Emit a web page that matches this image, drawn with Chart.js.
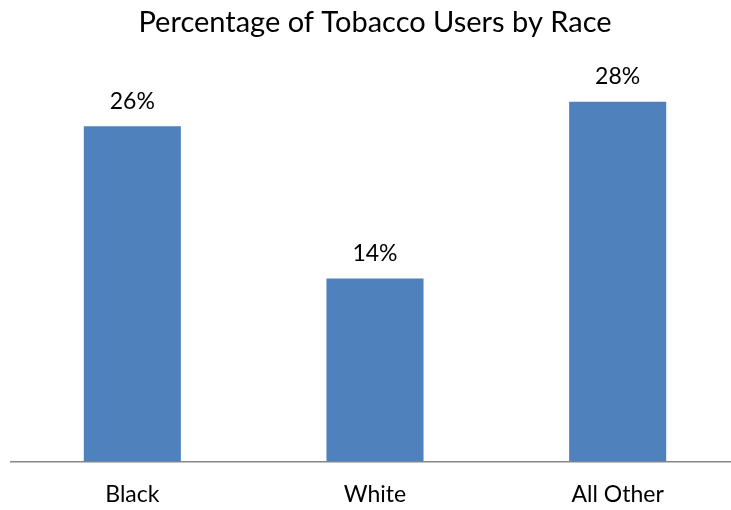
<!DOCTYPE html>
<html>
<head>
<meta charset="utf-8">
<script src="https://cdn.jsdelivr.net/npm/chart.js@4.4.0/dist/chart.umd.min.js"></script>
<style>
  html, body { margin: 0; padding: 0; background: #fff; overflow: hidden; }
  #wrap { width: 739px; height: 530px; }
</style>
</head>
<body>
<div id="wrap"><canvas id="chart"></canvas></div>
<script>
// chart data
const races = ['Black', 'White', 'All Other'];
const tobaccoPct = [26, 14.2, 27.9];

const barColor = '#4F81BD';
const fontFamily = 'Lato, "Open Sans", sans-serif';

// draws the percentage above each bar
const valueLabels = {
    id: 'valueLabels',
    afterDatasetsDraw(chart) {
        const ctx = chart.ctx;
        const meta = chart.getDatasetMeta(0);
        ctx.save();
        ctx.fillStyle = '#000';
        ctx.font = '23px ' + fontFamily;
        ctx.textAlign = 'center';
        ctx.textBaseline = 'middle';
        meta.data.forEach((bar, i) => {
            ctx.fillText(Math.round(tobaccoPct[i]) + '%', bar.x, bar.y - 25);
        });
        ctx.restore();
    }
};

new Chart(document.getElementById('chart'), {
    type: 'bar',
    data: {
        labels: races,
        datasets: [{
            data: tobaccoPct,
            backgroundColor: barColor,
            categoryPercentage: 0.8,
            barPercentage: 0.5
        }]
    },
    options: {
        responsive: true,
        maintainAspectRatio: false,
        animation: false,
        layout: { padding: { left: 11, right: 0, top: 0, bottom: 3 } },
        plugins: {
            legend: { display: false },
            tooltip: { enabled: false },
            title: {
                display: true,
                text: 'Percentage of Tobacco Users by Race',
                color: '#000',
                font: { family: fontFamily, size: 29, weight: 'normal' },
                padding: { top: 5, bottom: 35 }
            }
        },
        scales: {
            x: {
                grid: { display: false, drawTicks: false },
                border: { display: true, color: '#868686', width: 1.5 },
                ticks: {
                    color: '#000',
                    padding: 19,
                    font: { family: fontFamily, size: 23 }
                }
            },
            y: {
                display: false,
                min: 0,
                max: 30
            }
        }
    },
    plugins: [valueLabels]
});
</script>
</body>
</html>
